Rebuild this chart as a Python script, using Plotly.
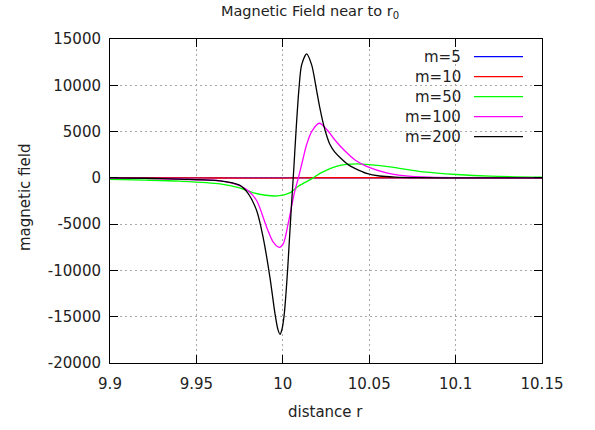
import plotly.graph_objects as go

# ---------------- data ----------------
series_names = ["m=5", "m=10", "m=50", "m=100", "m=200"]
series_colors = ["#0000ff", "#ff0000", "#00ff00", "#ff00ff", "#000000"]

x_m5 = [9.90, 9.95, 9.98, 10.00, 10.02, 10.05, 10.10, 10.15]
y_m5 = [-3, -6, -9, -8, 4, 6, 3, 1]

x_m10 = [9.90, 9.95, 9.98, 10.00, 10.02, 10.05, 10.10, 10.15]
y_m10 = [-4, -10, -20, -25, 10, 12, 4, 1]

x_m50 = [9.90, 9.92, 9.94, 9.9637, 9.975, 9.983, 9.990, 9.997, 10.004, 10.009,
         10.0119, 10.0176, 10.0215, 10.026, 10.031, 10.037, 10.043, 10.050,
         10.062, 10.0815, 10.1006, 10.12, 10.15]
y_m50 = [-150, -240, -360, -650, -1080, -1620, -1880, -1950, -1620, -900,
         -600, 0, 480, 900, 1250, 1450, 1500, 1420,
         1190, 650, 360, 180, 70]

x_m100 = [9.90, 9.92, 9.94, 9.964, 9.975, 9.980, 9.985, 9.9906, 9.9945, 9.998,
          10.0003, 10.0031, 10.0066, 10.009, 10.0115, 10.0138, 10.0167, 10.0212,
          10.0253, 10.031, 10.036, 10.042, 10.0485, 10.060, 10.070, 10.085,
          10.10, 10.15]
y_m100 = [-20, -60, -150, -330, -850, -1400, -2500, -5300, -6950, -7500,
          -7100, -4950, -1700, 0, 1900, 3600, 5000, 5900,
          5250, 3900, 2900, 1900, 1250, 550, 250, 70,
          20, 0]

x_m200 = [9.90, 9.92, 9.94, 9.9637, 9.975, 9.980, 9.985, 9.9887, 9.9926, 9.9955,
          9.9972, 9.9984, 9.9996, 10.0008, 10.0018, 10.0028, 10.0036, 10.0050,
          10.0063, 10.0077, 10.0093, 10.0109, 10.0138, 10.0167, 10.0196, 10.0215,
          10.0235, 10.0255, 10.0273, 10.0300, 10.0331, 10.038, 10.042, 10.0485,
          10.056, 10.065, 10.080, 10.10, 10.15]
y_m200 = [0, -40, -140, -320, -790, -1700, -3600, -6500, -10800, -14700,
          -16400, -16900, -16300, -14800, -12600, -9900, -7400, -3000,
          800, 5200, 9500, 12200, 13400, 12200, 9400, 7500,
          5800, 4500, 3600, 2800, 2200, 1400, 1000, 480,
          200, 80, 20, 5, 0]

x_ticks = [9.9, 9.95, 10.0, 10.05, 10.1, 10.15]
x_tick_labels = ["9.9", "9.95", "10", "10.05", "10.1", "10.15"]
y_ticks = [15000, 10000, 5000, 0, -5000, -10000, -15000, -20000]
y_tick_labels = ["15000", "10000", "5000", "0", "-5000", "-10000", "-15000", "-20000"]

title_text = "Magnetic Field near to r<sub>0</sub>"
x_title = "distance r"
y_title = "magnetic field"

# ---------------- figure ----------------
W, H = 595, 430
ML, MR, MT, MB = 110, 53, 39, 67
FONT = "DejaVu Sans"
FS = 15
TXT = "#222222"

xs = [x_m5, x_m10, x_m50, x_m100, x_m200]
ys = [y_m5, y_m10, y_m50, y_m100, y_m200]

fig = go.Figure()
for xv, yv, name, col in zip(xs, ys, series_names, series_colors):
    fig.add_trace(go.Scatter(
        x=xv, y=yv, name=name, mode="lines",
        line=dict(color=col, width=1.3, shape="spline", smoothing=0.8),
        showlegend=False,
    ))

axis_common = dict(
    showline=True, linecolor="#000000", linewidth=1, mirror="allticks",
    ticks="inside", ticklen=8, tickcolor="#000000", tickwidth=1,
    showgrid=True, gridcolor="#a8a8a8", griddash="2px,3px", gridwidth=1,
    zeroline=False,
    tickfont=dict(family=FONT, size=FS, color=TXT),
)

fig.update_xaxes(range=[9.9, 10.15], tickvals=x_ticks, ticktext=x_tick_labels,
                 ticklabelstandoff=7, **axis_common)
fig.update_yaxes(range=[-20000, 15000], tickvals=y_ticks, ticktext=y_tick_labels,
                 ticklabelstandoff=5, **axis_common)

# legend drawn gnuplot-style: text on the left, line sample on the right
pw = W - ML - MR
ph = H - MT - MB
def px_to_paper_x(px):
    return (px - ML) / pw
def px_to_paper_y(py):
    return 1 - (py - MT) / ph

annotations = []
shapes = []
for i, (name, col) in enumerate(zip(series_names, series_colors)):
    py = 56.7 + 20 * i
    annotations.append(dict(
        x=px_to_paper_x(463), y=px_to_paper_y(py), xref="paper", yref="paper",
        text=name, showarrow=False, xanchor="right", yanchor="middle",
        font=dict(family=FONT, size=FS, color=TXT),
    ))
    shapes.append(dict(
        type="line", xref="paper", yref="paper",
        x0=px_to_paper_x(474), x1=px_to_paper_x(523),
        y0=px_to_paper_y(py), y1=px_to_paper_y(py),
        line=dict(color=col, width=1.3),
    ))

annotations.append(dict(
    x=px_to_paper_x(325), y=px_to_paper_y(412), xref="paper", yref="paper",
    text=x_title, showarrow=False, xanchor="center", yanchor="middle",
    font=dict(family=FONT, size=FS, color=TXT),
))
annotations.append(dict(
    x=px_to_paper_x(25), y=px_to_paper_y(197), xref="paper", yref="paper",
    text=y_title, showarrow=False, xanchor="center", yanchor="middle", textangle=-90,
    font=dict(family=FONT, size=FS, color=TXT),
))

fig.update_layout(
    width=W, height=H,
    margin=dict(l=ML, r=MR, t=MT, b=MB, autoexpand=False),
    paper_bgcolor="white", plot_bgcolor="white",
    title=dict(text=title_text, x=310 / W, xref="container", xanchor="center",
               y=1 - 11 / H, yref="container", yanchor="middle",
               font=dict(family=FONT, size=14.5, color=TXT)),
    annotations=annotations, shapes=shapes,
    showlegend=False,
)

fig.write_html("out.html", config={"displayModeBar": False},
               post_script="document.body.style.margin='0';")
